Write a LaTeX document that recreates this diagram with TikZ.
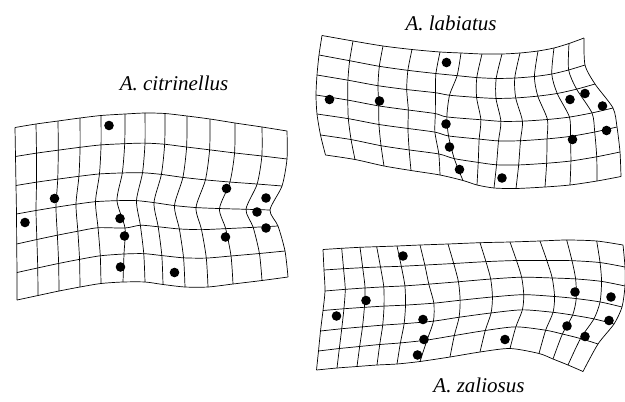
\documentclass[tikz,border=0pt]{standalone}
\usepackage{fontspec}
\setmainfont{Liberation Serif}

% boundary data: top, bottom (13 columns), left, right (7 rows)
\def\citTopX{{15,36,58,80,101,125,145,165,187,210,235,262,287}}
\def\citTopY{{127.5,124,121,118,115.5,114,113,113.5,116,119,123,127,131}}
\def\citBotX{{17,38,59,80,101,123,145,163,185,208,233,262,288}}
\def\citBotY{{300,295.5,291,287,283.5,282,282,284.5,287,287,284,280.5,277}}
\def\citLftX{{15,15.5,16,16.5,16.7,17,17}}
\def\citLftY{{127.5,156.5,185.5,214,244,272.5,300}}
\def\citRgtX{{287,287,282,270,278,285,288}}
\def\citRgtY{{131,159,186,210,226,251,277}}

\def\labTopX{{322,353,383,412,440,461,482,502,520,538,554,569,584}}
\def\labTopY{{35.5,41,46,49.5,52,53,54,54,53,51,48,43.5,38}}
\def\labBotX{{325.5,355,384,411,440,463,477,494,516,545,570,597,621}}
\def\labBotY{{155,159.5,166,170.5,175,180.5,185,188,188.5,187,185,181,176.5}}
\def\labLftX{{322,319,317,316,317,320.5,325.5}}
\def\labLftY{{35.5,55,75,95,114,135,155}}
\def\labRgtX{{584,585,595,613,617,620,621}}
\def\labRgtY{{38,65,84,108,127,152,176.5}}

\def\zalTopX{{323,341.7,360,376.7,397,420,448,480,510,540,566.7,596.7,623}}
\def\zalTopY{{249.5,248.3,247.3,246.7,246,245,244,242.7,242,241,240,241,245}}
\def\zalBotX{{316.5,337,357,377,397,420,450,480,510,539,553,568,583}}
\def\zalBotY{{370,368,366.5,365,364,361.5,357,352,348.5,353.5,359,365,371.5}}
\def\zalLftX{{323,324,325,323,320.5,318.5,316.5}}
\def\zalLftY{{249.5,270,291,310.5,331,351,370}}
\def\zalRgtX{{623,625,625,622,614,598,583}}
\def\zalRgtY{{245,267,286,307,324,344,371.5}}

% #1 name, #2-#9 top x/y, bottom x/y, left x/y, right x/y
\newcommand\warpgrid[9]{%
  \foreach \i in {0,...,12}{%
    \foreach \j in {0,...,6}{%
      \pgfmathsetmacro\uu{\i/12}%
      \pgfmathsetmacro\vv{\j/6}%
      \pgfmathsetmacro\gx{(1-\vv)*(#2[\i])+\vv*(#4[\i])+(1-\uu)*(#6[\j])+\uu*(#8[\j])
        -(1-\uu)*(1-\vv)*(#2[0])-\uu*(1-\vv)*(#2[12])-(1-\uu)*\vv*(#4[0])-\uu*\vv*(#4[12])}%
      \pgfmathsetmacro\gy{(1-\vv)*(#3[\i])+\vv*(#5[\i])+(1-\uu)*(#7[\j])+\uu*(#9[\j])
        -(1-\uu)*(1-\vv)*(#3[0])-\uu*(1-\vv)*(#3[12])-(1-\uu)*\vv*(#5[0])-\uu*\vv*(#5[12])}%
      \coordinate (#1-\i-\j) at (\gx,\gy);
    }%
  }%
}

% smooth rows and columns through the grid points
\newcommand\drawgrid[1]{%
  \foreach \j in {0,...,6}{%
    \gdef\gridpts{}%
    \foreach \i in {0,...,12}{\xdef\gridpts{\gridpts(#1-\i-\j)}}%
    \edef\gridpath{\noexpand\draw[gridline] plot[smooth, tension=0.45] coordinates {\gridpts};}%
    \gridpath
  }%
  \foreach \i in {0,...,12}{%
    \gdef\gridpts{}%
    \foreach \j in {0,...,6}{\xdef\gridpts{\gridpts(#1-\i-\j)}}%
    \edef\gridpath{\noexpand\draw[gridline] plot[smooth, tension=0.45] coordinates {\gridpts};}%
    \gridpath
  }%
}

\begin{document}
\begin{tikzpicture}[x=1pt, y=-1pt,
    gridline/.style={line width=0.7pt, line join=round},
    landmark/.style={fill=black},
    species/.style={font=\fontsize{21}{25}\selectfont\itshape, anchor=base, inner sep=0pt}]
  \useasboundingbox (0,0) rectangle (625,402);

  \warpgrid{cit}{\citTopX}{\citTopY}{\citBotX}{\citBotY}{\citLftX}{\citLftY}{\citRgtX}{\citRgtY}
  \coordinate (cit-5-4) at (125,228);
  \coordinate (cit-5-5) at (124,254);
  \drawgrid{cit}

  \warpgrid{lab}{\labTopX}{\labTopY}{\labBotX}{\labBotY}{\labLftX}{\labLftY}{\labRgtX}{\labRgtY}
  \foreach \j/\dx in {2/-8,3/-15,4/-13,5/-8}
    \coordinate (lab-5-\j) at ([xshift=\dx pt]lab-5-\j);
  \foreach \j/\dx in {3/-3,4/-3}
    \coordinate (lab-4-\j) at ([xshift=\dx pt]lab-4-\j);
  \drawgrid{lab}

  \warpgrid{zal}{\zalTopX}{\zalTopY}{\zalBotX}{\zalBotY}{\zalLftX}{\zalLftY}{\zalRgtX}{\zalRgtY}
  \foreach \j/\dx in {3/4,4/5,5/3}
    \coordinate (zal-5-\j) at ([xshift=\dx pt]zal-5-\j);
  \drawgrid{zal}

  \foreach \p in {(109,125.5),(54.5,198.5),(25,222.5),(120,218.5),(124.5,236),(120.5,267),
                  (174.5,272.5),(226.5,188.5),(266,198),(257,212),(266,228),(225.5,237)}
    \fill[landmark] \p circle (4.8);

  \foreach \p in {(446.5,62.5),(329.5,99.5),(379.5,101),(446,124),(449.5,147),(459.5,169.5),
                  (502,178),(570,99.5),(585,93.5),(602.5,106),(606.5,130.5),(572.5,139.5)}
    \fill[landmark] \p circle (4.8);

  \foreach \p in {(403,256),(366,300.5),(336.5,316),(423,319.5),(424,339.5),(417.5,355),
                  (505,339.5),(575,292),(611,297),(609,320.5),(567,326),(585,336.5)}
    \fill[landmark] \p circle (4.8);

  \node[species] (citLabel) at (174,90) {A. citrinellus};
  \node[species] (labLabel) at (451,30.5) {A. labiatus};
  \node[species] (zalLabel) at (479,392) {A. zaliosus};
\end{tikzpicture}
\end{document}
